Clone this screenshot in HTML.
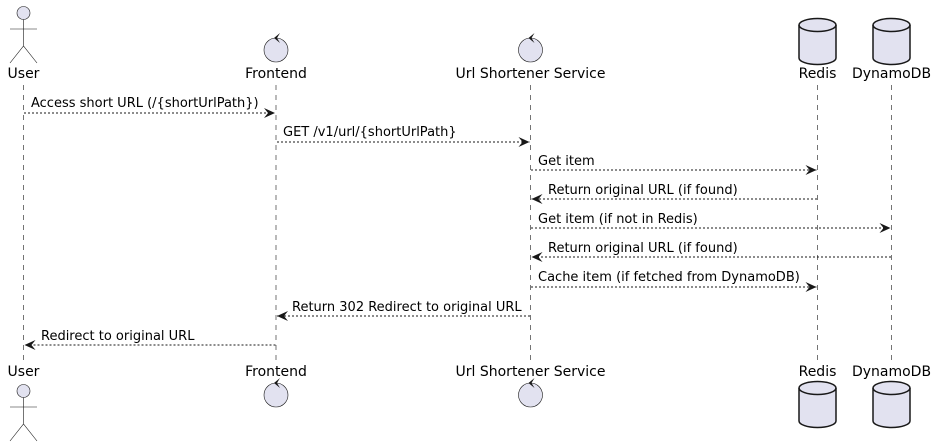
<!DOCTYPE html>
<html><head><style>
body{margin:0;background:#fff}
svg{display:block}
text{font-family:"DejaVu Sans",sans-serif;fill:#000}
</style></head><body>
<svg width="935" height="443" viewBox="0 0 935 443" xmlns="http://www.w3.org/2000/svg">
<defs>
<marker id="ah" markerWidth="12" markerHeight="10" refX="11" refY="5" orient="auto" markerUnits="userSpaceOnUse">
<path d="M0,0 L11,5 L0,10 L4,5 Z" fill="#181818"/>
</marker>
</defs>
<g stroke="#181818" stroke-width="0.6" stroke-dasharray="5,5">
<line x1="23.5" y1="85" x2="23.5" y2="362"/>
<line x1="276" y1="85" x2="276" y2="362"/>
<line x1="530.5" y1="85" x2="530.5" y2="362"/>
<line x1="817.5" y1="85" x2="817.5" y2="362"/>
<line x1="891.5" y1="85" x2="891.5" y2="362"/>
</g>
<g font-size="14">
<text x="23.5" y="78" text-anchor="middle">User</text>
<text x="276" y="78" text-anchor="middle">Frontend</text>
<text x="530.5" y="78" text-anchor="middle">Url Shortener Service</text>
<text x="817.5" y="78" text-anchor="middle">Redis</text>
<text x="891.5" y="78" text-anchor="middle">DynamoDB</text>
<text x="23.5" y="376" text-anchor="middle">User</text>
<text x="276" y="376" text-anchor="middle">Frontend</text>
<text x="530.5" y="376" text-anchor="middle">Url Shortener Service</text>
<text x="817.5" y="376" text-anchor="middle">Redis</text>
<text x="891.5" y="376" text-anchor="middle">DynamoDB</text>
</g>
<g fill="#e2e2f0" stroke="#181818" stroke-width="0.6">
<circle cx="23.5" cy="13" r="6.5"/>
<path d="M23.5,19.5 V46 M10,29 H37 M10,63 L23.5,46 L37,63" fill="none"/>
<circle cx="23.5" cy="391" r="6.5"/>
<path d="M23.5,397.5 V424 M10,407 H37 M10,441 L23.5,424 L37,441" fill="none"/>
<circle cx="276" cy="50" r="12"/>
<circle cx="530.5" cy="50" r="12"/>
<circle cx="276" cy="395" r="12"/>
<circle cx="530.5" cy="395" r="12"/>
</g>
<g fill="#181818">
<path d="M274,38 L280,33 L277,38 L280,43 Z"/>
<path d="M528.5,38 L534.5,33 L531.5,38 L534.5,43 Z"/>
<path d="M274,383 L280,378 L277,383 L280,388 Z"/>
<path d="M528.5,383 L534.5,378 L531.5,383 L534.5,388 Z"/>
</g>
<g fill="#e2e2f0" stroke="#181818" stroke-width="1.5">
<path d="M799,25 A18.5,6.5 0 0 1 836,25 V58 A18.5,6.5 0 0 1 799,58 Z"/>
<path d="M799,25 A18.5,6.5 0 0 0 836,25" fill="none"/>
<path d="M873,25 A18.5,6.5 0 0 1 910,25 V58 A18.5,6.5 0 0 1 873,58 Z"/>
<path d="M873,25 A18.5,6.5 0 0 0 910,25" fill="none"/>
<path d="M799,388 A18.5,6.5 0 0 1 836,388 V421 A18.5,6.5 0 0 1 799,421 Z"/>
<path d="M799,388 A18.5,6.5 0 0 0 836,388" fill="none"/>
<path d="M873,388 A18.5,6.5 0 0 1 910,388 V421 A18.5,6.5 0 0 1 873,421 Z"/>
<path d="M873,388 A18.5,6.5 0 0 0 910,388" fill="none"/>
</g>
<g stroke="#181818" stroke-width="1" stroke-dasharray="2,2" marker-end="url(#ah)">
<line x1="24" y1="113" x2="275" y2="113"/>
<line x1="277" y1="142" x2="529.5" y2="142"/>
<line x1="531" y1="170" x2="816.5" y2="170"/>
<line x1="817" y1="199" x2="531.5" y2="199"/>
<line x1="531" y1="228" x2="890.5" y2="228"/>
<line x1="891" y1="257" x2="531.5" y2="257"/>
<line x1="531" y1="287" x2="816.5" y2="287"/>
<line x1="530" y1="316" x2="277" y2="316"/>
<line x1="275.5" y1="345" x2="24.5" y2="345"/>
</g>
<g font-size="13">
<text x="31" y="107">Access short URL (/{shortUrlPath})</text>
<text x="283" y="136">GET /v1/url/{shortUrlPath}</text>
<text x="538" y="165">Get item</text>
<text x="548" y="194">Return original URL (if found)</text>
<text x="538" y="223">Get item (if not in Redis)</text>
<text x="548" y="252">Return original URL (if found)</text>
<text x="538" y="281">Cache item (if fetched from DynamoDB)</text>
<text x="292" y="311">Return 302 Redirect to original URL</text>
<text x="41" y="340">Redirect to original URL</text>
</g>
</svg>
</body></html>
